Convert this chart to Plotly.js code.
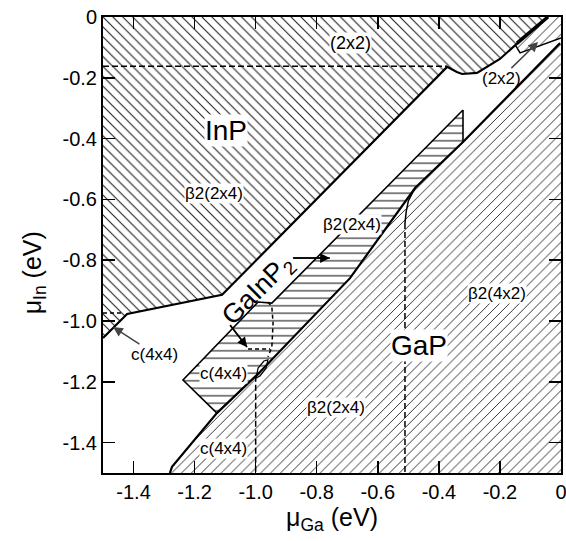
<!DOCTYPE html>
<html><head><meta charset="utf-8">
<script src="https://cdn.plot.ly/plotly-3.0.1.min.js"></script>
<style>html,body{margin:0;padding:0;background:#fff}</style>
</head><body><div id="chart" style="width:566px;height:541px"></div>
<script>
// ---- data (mu_Ga, mu_In in eV) ----
// InP stability region (upper left)
const inpX = [-1.5, -0.043, -0.144, -0.157, -0.200, -0.259, -0.275, -0.324, -0.341, -0.373, -1.110, -1.421, -1.5];
const inpY = [0, 0, -0.086, -0.099, -0.138, -0.174, -0.184, -0.1875, -0.181, -0.164, -0.914, -0.977, -1.056];
// small (2x2) strip at the top right corner
const s22X = [-0.150, -0.043, 0, 0, -0.134, -0.150];
const s22Y = [-0.092, 0, 0, -0.069, -0.118, -0.092];
// GaP boundary (lower right region)
const gapX = [-1.281, -1.274, -1.127, -0.986, -0.691, -0.478, -0.321, -0.233, -0.003];
const gapY = [-1.5, -1.48, -1.303, -1.168, -0.859, -0.5625, -0.411, -0.322, -0.086];
// GaInP2 region
const gipX = [-0.321, -0.947, -0.992, -1.238, -1.127, -0.986, -0.691, -0.478, -0.321, -0.321];
const gipY = [-0.306, -0.941, -0.9375, -1.194, -1.303, -1.168, -0.859, -0.5625, -0.411, -0.306];
// dashed / internal boundaries
const dashTopX = [-1.5, -0.373], dashTopY = [-0.162, -0.162];
const dashLeftX = [-1.5, -1.438], dashLeftY = [-0.974, -0.974];
const dashV1X = [-1.0, -1.0], dashV1Y = [-1.18, -1.5];
const dashV2X = [-0.511, -0.511], dashV2Y = [-0.678, -1.5];
const curveX = [-0.511, -0.507, -0.500, -0.478], curveY = [-0.678, -0.640, -0.605, -0.5625];
const chunkVX = [-0.960, -0.947, -0.943, -0.947, -0.960], chunkVY = [-0.9375, -0.954, -1.007, -1.086, -1.118];
const chunkHX = [-1.025, -0.953], chunkHY = [-1.092, -1.092];
const lensX = [-0.999, -0.992, -0.973, -0.960, -0.966, -0.986, -0.999];
const lensY = [-1.1875, -1.155, -1.1316, -1.128, -1.155, -1.181, -1.1875];
// ticks
const tickVals = [-1.4, -1.2, -1.0, -0.8, -0.6, -0.4, -0.2, 0];
const xTickText = ['-1.4', '-1.2', '-1.0', '-0.8', '-0.6', '-0.4', '-0.2', '0'];
const yTickText = ['-1.4', '-1.2', '-1.0', '-0.8', '-0.6', '-0.4', '-0.2', '0'];

const FONT = 'Liberation Sans, Arial, Helvetica, sans-serif';
function poly(x, y, shape, size, sol, col) {
  return {x: x, y: y, mode: 'lines', fill: 'toself', line: {width: 0, color: 'rgba(0,0,0,0)'},
    fillcolor: 'white', fillpattern: {shape: shape, size: size, solidity: sol, fgcolor: col, bgcolor: 'white'},
    hoverinfo: 'skip', showlegend: false};
}
function ln(x, y, w, dash) {
  return {x: x, y: y, mode: 'lines', line: {color: 'black', width: w, dash: dash || 'solid'},
    hoverinfo: 'skip', showlegend: false};
}
const gapFillX = gapX.concat([0, 0]);
const gapFillY = gapY.concat([-0.086, -1.5]);

// pointer arrows beside the GaInP2 label: [tailX, tailY, headX, headY]
const ptr1 = [-0.878, -0.793, -0.757, -0.793];
const ptr2 = [-1.084, -1.013, -1.028, -1.086];

const traces = [
  poly(inpX, inpY, '\\', 7, 0.16, '#222'),
  poly(gapFillX, gapFillY, '/', 7, 0.14, '#333'),
  poly(s22X, s22Y, '/', 7, 0.14, '#333'),
  poly(gipX, gipY, '-', 7.5, 0.15, '#222'),
  ln(inpX.slice(1), inpY.slice(1), 2.2),
  ln([-0.144, -0.043], [-0.086, 0], 3.5),
  ln(s22X.slice(3), s22Y.slice(3), 1.5),
  ln(gapX, gapY, 2.2),
  ln(gipX.slice(0, 6), gipY.slice(0, 6), 1.6),
  ln([-0.321, -0.321], [-0.306, -0.411], 1.6),
  ln(dashTopX, dashTopY, 1.5, '6px,3px'),
  ln(dashLeftX, dashLeftY, 1.5, '4px,3px'),
  ln(dashV1X, dashV1Y, 1.5, '6px,3px'),
  ln(dashV2X, dashV2Y, 1.5, '6px,3px'),
  ln(curveX, curveY, 1.5),
  ln(chunkVX, chunkVY, 1.5, '4px,3px'),
  ln(chunkHX, chunkHY, 1.5, '4px,3px'),
  ln(lensX, lensY, 1.2),
  ln([ptr1[0], ptr1[2]], [ptr1[1], ptr1[3]], 1.5),
  ln([ptr2[0], ptr2[2]], [ptr2[1], ptr2[3]], 1.5)
];

function lab(x, y, t, s, extra) {
  return Object.assign({x: x, y: y, xref: 'x', yref: 'y', text: t, showarrow: false,
    font: {family: FONT, size: s, color: 'black'}, bgcolor: 'white', borderpad: 0}, extra || {});
}
function arr(p) {
  return {x: p[2], y: p[3], ax: p[0], ay: p[1], xref: 'x', yref: 'y', axref: 'x', ayref: 'y', text: '',
    font: {size: 1}, borderpad: 0, showarrow: true, arrowhead: 2, arrowsize: 1.3, arrowwidth: 1.5,
    arrowcolor: 'black'};
}
const annotations = [
  lab(-0.688, -0.0855, '(2x2)', 18),
  lab(-1.097, -0.372, 'InP', 28),
  lab(-1.136, -0.579, 'β2(2x4)', 17),
  lab(-0.684, -0.684, 'β2(2x4)', 17),
  lab(-0.992, -0.901, 'GaInP<sub>2</sub>', 27, {textangle: -45, bgcolor: 'rgba(0,0,0,0)'}),
  lab(-1.104, -1.174, 'c(4x4)', 17),
  lab(-1.104, -1.421, 'c(4x4)', 17),
  lab(-0.737, -1.283, 'β2(2x4)', 17),
  lab(-0.465, -1.082, 'GaP', 28),
  lab(-0.210, -0.911, 'β2(4x2)', 17),
  Object.assign(lab(-1.467, -1.020, 'c(4x4)', 17), {ax: -1.330, ay: -1.109, axref: 'x', ayref: 'y',
    showarrow: true, arrowhead: 2, arrowsize: 1.3, arrowwidth: 1.5, bgcolor: 'rgba(0,0,0,0)'}),
  Object.assign(lab(-0.075, -0.082, '(2x2)', 17), {ax: -0.196, ay: -0.201, axref: 'x', ayref: 'y',
    showarrow: true, arrowhead: 2, arrowsize: 1.3, arrowwidth: 1.5, bgcolor: 'rgba(0,0,0,0)'}),
  arr(ptr1),
  arr(ptr2),
  {x: -0.19, y: 0.44, xref: 'paper', yref: 'paper', text: 'μ<sub>In</sub> (eV)', textangle: -90,
    showarrow: false, font: {family: FONT, size: 25, color: 'black'}}
];

const axisCommon = {range: [-1.5, 0], tickvals: tickVals, ticks: 'inside', ticklen: 12, tickwidth: 1.5,
  tickcolor: 'black', showline: true, linecolor: 'black', linewidth: 2, mirror: 'allticks',
  showgrid: false, zeroline: false, tickfont: {family: FONT, size: 20, color: 'black'},
  ticklabeloverflow: 'allow', fixedrange: true};

const layout = {
  width: 566, height: 541, margin: {l: 103, r: 5, t: 17, b: 68},
  paper_bgcolor: 'white', plot_bgcolor: 'white', showlegend: false,
  xaxis: Object.assign({}, axisCommon, {ticktext: xTickText,
    title: {text: 'μ<sub>Ga</sub> (eV)', font: {family: FONT, size: 25, color: 'black'}, standoff: 6}}),
  yaxis: Object.assign({}, axisCommon, {ticktext: yTickText}),
  annotations: annotations
};
Plotly.newPlot('chart', traces, layout, {staticPlot: true, displayModeBar: false});
</script></body></html>
